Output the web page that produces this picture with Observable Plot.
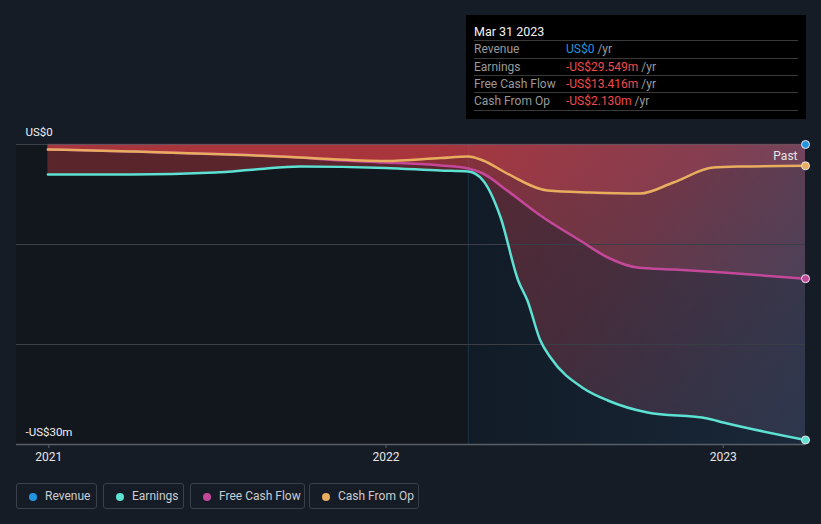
<!DOCTYPE html>
<html>
<head>
<meta charset="utf-8">
<script src="https://cdn.jsdelivr.net/npm/d3@7"></script>
<script src="https://cdn.jsdelivr.net/npm/@observablehq/plot@0.6"></script>
<style>
  html, body { margin: 0; padding: 0; background: #161c26; }
  body { width: 821px; height: 524px; position: relative; overflow: hidden; font-family: Roboto, "Noto Sans", sans-serif; }
  #chart { position: absolute; left: 0; top: 0; }
  .tip { position: absolute; left: 466px; top: 15px; width: 340px; height: 104px; background: #000; color: #fff; font-size: 12px; }
  .tip .title { position: absolute; left: 8px; top: 9px; font-size: 12.5px; color: #f2f2f2; }
  .tip .row { position: absolute; left: 8px; width: 324px; height: 17px; border-top: 1px solid #3a3a3a; line-height: 17px; }
  .tip .lab { position: absolute; left: 0; color: #9a9a9a; }
  .tip .val { position: absolute; left: 92px; color: #9a9a9a; }
  .tip .last { position: absolute; left: 8px; width: 324px; top: 95px; border-top: 1px solid #3a3a3a; }
  .legend { position: absolute; top: 483px; left: 0; }
  .btn { position: absolute; top: 0; height: 26px; border: 1px solid #394049; border-radius: 3px; box-sizing: border-box; font-size: 12px; color: #c9ccd1; line-height: 25px; }
  .btn .dot { position: absolute; left: 12px; top: 9px; width: 8px; height: 8px; border-radius: 50%; }
  .btn .t { position: absolute; left: 28px; }
</style>
</head>
<body>
<div id="chart"></div>
<div class="tip">
  <div class="title">Mar 31 2023</div>
  <div class="row" style="top:25px"><span class="lab">Revenue</span><span class="val"><span style="color:#2394df">US$0</span> /yr</span></div>
  <div class="row" style="top:43px"><span class="lab">Earnings</span><span class="val"><span style="color:#f04b4b">-US$29.549m</span> /yr</span></div>
  <div class="row" style="top:60px"><span class="lab">Free Cash Flow</span><span class="val"><span style="color:#f04b4b">-US$13.416m</span> /yr</span></div>
  <div class="row" style="top:77px"><span class="lab">Cash From Op</span><span class="val"><span style="color:#f04b4b">-US$2.130m</span> /yr</span></div>
  <div class="last"></div>
</div>
<div class="legend" id="legend"></div>
<script>
// ---- data (US$ millions) ----
const revenueDates = ["2020-12-31","2021-03-31","2021-06-30","2021-09-30","2021-12-31","2022-03-31","2022-06-30","2022-09-30","2022-12-31","2023-03-31"];
const revenueValues = [0,0,0,0,0,0,0,0,0,0];

const earningsDates = ["2020-12-31","2021-03-31","2021-06-30","2021-08-12","2021-09-30","2021-12-31","2022-03-01","2022-03-31","2022-04-16","2022-05-05","2022-05-24","2022-06-03","2022-06-17","2022-06-28","2022-08-03","2022-08-29","2022-10-11","2022-12-15","2023-01-01","2023-03-31"];
const earningsValues = [-3.0,-3.0,-2.8,-2.5,-2.2,-2.35,-2.6,-2.7,-3.6,-7.3,-13.6,-15.6,-19.6,-21.3,-24.4,-25.6,-26.8,-27.4,-27.8,-29.549];

const fcfDates = ["2020-12-31","2021-03-31","2021-06-01","2021-09-30","2021-10-20","2021-12-31","2022-03-01","2022-03-31","2022-04-16","2022-05-12","2022-06-17","2022-07-30","2022-08-29","2022-09-30","2022-11-08","2023-01-01","2023-03-31"];
const fcfValues = [-0.5,-0.7,-0.87,-1.3,-1.45,-1.8,-2.1,-2.4,-2.9,-4.6,-7.1,-9.6,-11.3,-12.3,-12.5,-12.8,-13.416];

const cfoDates = ["2020-12-31","2021-03-31","2021-06-01","2021-09-30","2021-10-20","2021-12-31","2022-03-01","2022-03-31","2022-04-16","2022-05-12","2022-06-25","2022-08-10","2022-10-03","2022-11-08","2022-12-21","2023-01-20","2023-03-31"];
const cfoValues = [-0.5,-0.7,-0.87,-1.3,-1.4,-1.65,-1.35,-1.2,-1.6,-2.9,-4.6,-4.8,-4.9,-3.8,-2.3,-2.2,-2.13];

const yTicks = [0, -30];
const yTickLabels = ["US$0", "-US$30m"];
const gridValues = [0, -10, -20];
const xTickYears = ["2021-01-01", "2022-01-01", "2023-01-01"];
const domainStart = "2020-11-27";
const domainEnd = "2023-03-31";
const highlightStart = "2022-03-31";

const seriesNames = ["Revenue", "Earnings", "Free Cash Flow", "Cash From Op"];
const seriesColors = ["#2394df", "#5ce1d2", "#c4489a", "#e8ad5f"];

// ---- build tables ----
const P = d3.utcParse("%Y-%m-%d");
const mk = (dates, vals, name) => dates.map((d, i) => ({date: P(d), value: vals[i], series: name}));
const revenue = mk(revenueDates, revenueValues, "Revenue");
const earnings = mk(earningsDates, earningsValues, "Earnings");
const fcf = mk(fcfDates, fcfValues, "Free Cash Flow");
const cfo = mk(cfoDates, cfoValues, "Cash From Op");
const lastPts = [revenue, earnings, fcf, cfo].map(s => s[s.length - 1]);

const x0 = P(domainStart), x1 = P(domainEnd), hl = P(highlightStart);
const curve = "monotone-x";

const plot = Plot.plot({
  width: 821,
  height: 470,
  marginLeft: 16,
  marginRight: 16,
  marginTop: 144,
  marginBottom: 26,
  style: {background: "transparent", fontFamily: "Roboto, sans-serif", fontSize: "12px", color: "#e6e6e6", overflow: "visible"},
  x: {type: "utc", domain: [x0, x1]},
  y: {domain: [-30, 0], axis: null},
  color: {domain: seriesNames, range: seriesColors},
  marks: [
    // plot backgrounds
    Plot.rect([{a: x0, b: hl}], {x1: "a", x2: "b", y1: -30, y2: 0, fill: "#12161d"}),
    Plot.rect([{a: hl, b: x1}], {x1: "a", x2: "b", y1: -30, y2: 0, fill: "url(#bgGrad)"}),
    Plot.ruleX([hl], {y1: -30, y2: 0, stroke: "#1b3248", strokeWidth: 1}),
    // areas
    Plot.areaY(earnings, {x: "date", y1: 0, y2: "value", curve, fill: "url(#areaGrad)"}),
    Plot.areaY(fcf, {x: "date", y1: 0, y2: "value", curve, fill: "url(#areaGrad)"}),
    Plot.areaY(cfo, {x: "date", y1: 0, y2: "value", curve, fill: "url(#areaGrad)"}),
    // grid
    Plot.ruleY(gridValues, {stroke: "#3a3f47", strokeWidth: 1}),
    Plot.ruleY([-30], {stroke: "#5a5f67", strokeWidth: 1.5}),
    // lines
    Plot.lineY(revenue, {x: "date", y: "value", stroke: "#8a5a68", strokeWidth: 1.5, strokeOpacity: 0.6, curve}),
    Plot.lineY(fcf, {x: "date", y: "value", stroke: seriesColors[2], strokeWidth: 2.5, curve}),
    Plot.lineY(cfo, {x: "date", y: "value", stroke: seriesColors[3], strokeWidth: 2.5, curve}),
    Plot.lineY(earnings, {x: "date", y: "value", stroke: seriesColors[1], strokeWidth: 2.5, curve}),
    Plot.dot(lastPts, {x: "date", y: "value", fill: "series", stroke: "#e8e8e8", strokeWidth: 1, r: 4}),
    // axes & labels
    Plot.axisX(xTickYears.map(P), {tickFormat: d3.utcFormat("%Y"), tickSize: 4, stroke: "#5a5f67", tickPadding: 4, fill: "#e6e6e6", fontSize: 12, label: null}),
    Plot.text(yTicks, {x: x0, y: d => d, text: (d, i) => yTickLabels[i], dx: 9, dy: -12, textAnchor: "start", fill: "#f0f0f0", fontSize: 11.5}),
    Plot.text(["Past"], {x: x1, y: 0, text: d => d, dx: -8, dy: 12, textAnchor: "end", fill: "#e6e6e6", fontSize: 12})
  ]
});

// gradients
const ns = "http://www.w3.org/2000/svg";
const defs = document.createElementNS(ns, "defs");
defs.innerHTML = `
  <linearGradient id="areaGrad" gradientUnits="userSpaceOnUse" x1="440" y1="144" x2="805" y2="444">
    <stop offset="0" stop-color="rgb(225,64,72)" stop-opacity="0.35"/>
    <stop offset="0.45" stop-color="rgb(190,75,95)" stop-opacity="0.3"/>
    <stop offset="1" stop-color="rgb(110,110,150)" stop-opacity="0.22"/>
  </linearGradient>
  <linearGradient id="bgGrad" gradientUnits="userSpaceOnUse" x1="466" y1="0" x2="805" y2="0">
    <stop offset="0" stop-color="#101b26"/>
    <stop offset="1" stop-color="#1a2839"/>
  </linearGradient>`;
plot.insertBefore(defs, plot.firstChild);
document.getElementById("chart").appendChild(plot);

// legend
const legendX = [16, 103, 190, 309];
const legendW = [81, 81, 115, 110];
const lg = document.getElementById("legend");
seriesNames.forEach((n, i) => {
  const b = document.createElement("div");
  b.className = "btn";
  b.style.left = legendX[i] + "px";
  b.style.width = legendW[i] + "px";
  b.innerHTML = `<span class="dot" style="background:${seriesColors[i]}"></span><span class="t">${n}</span>`;
  lg.appendChild(b);
});
</script>
</body>
</html>
